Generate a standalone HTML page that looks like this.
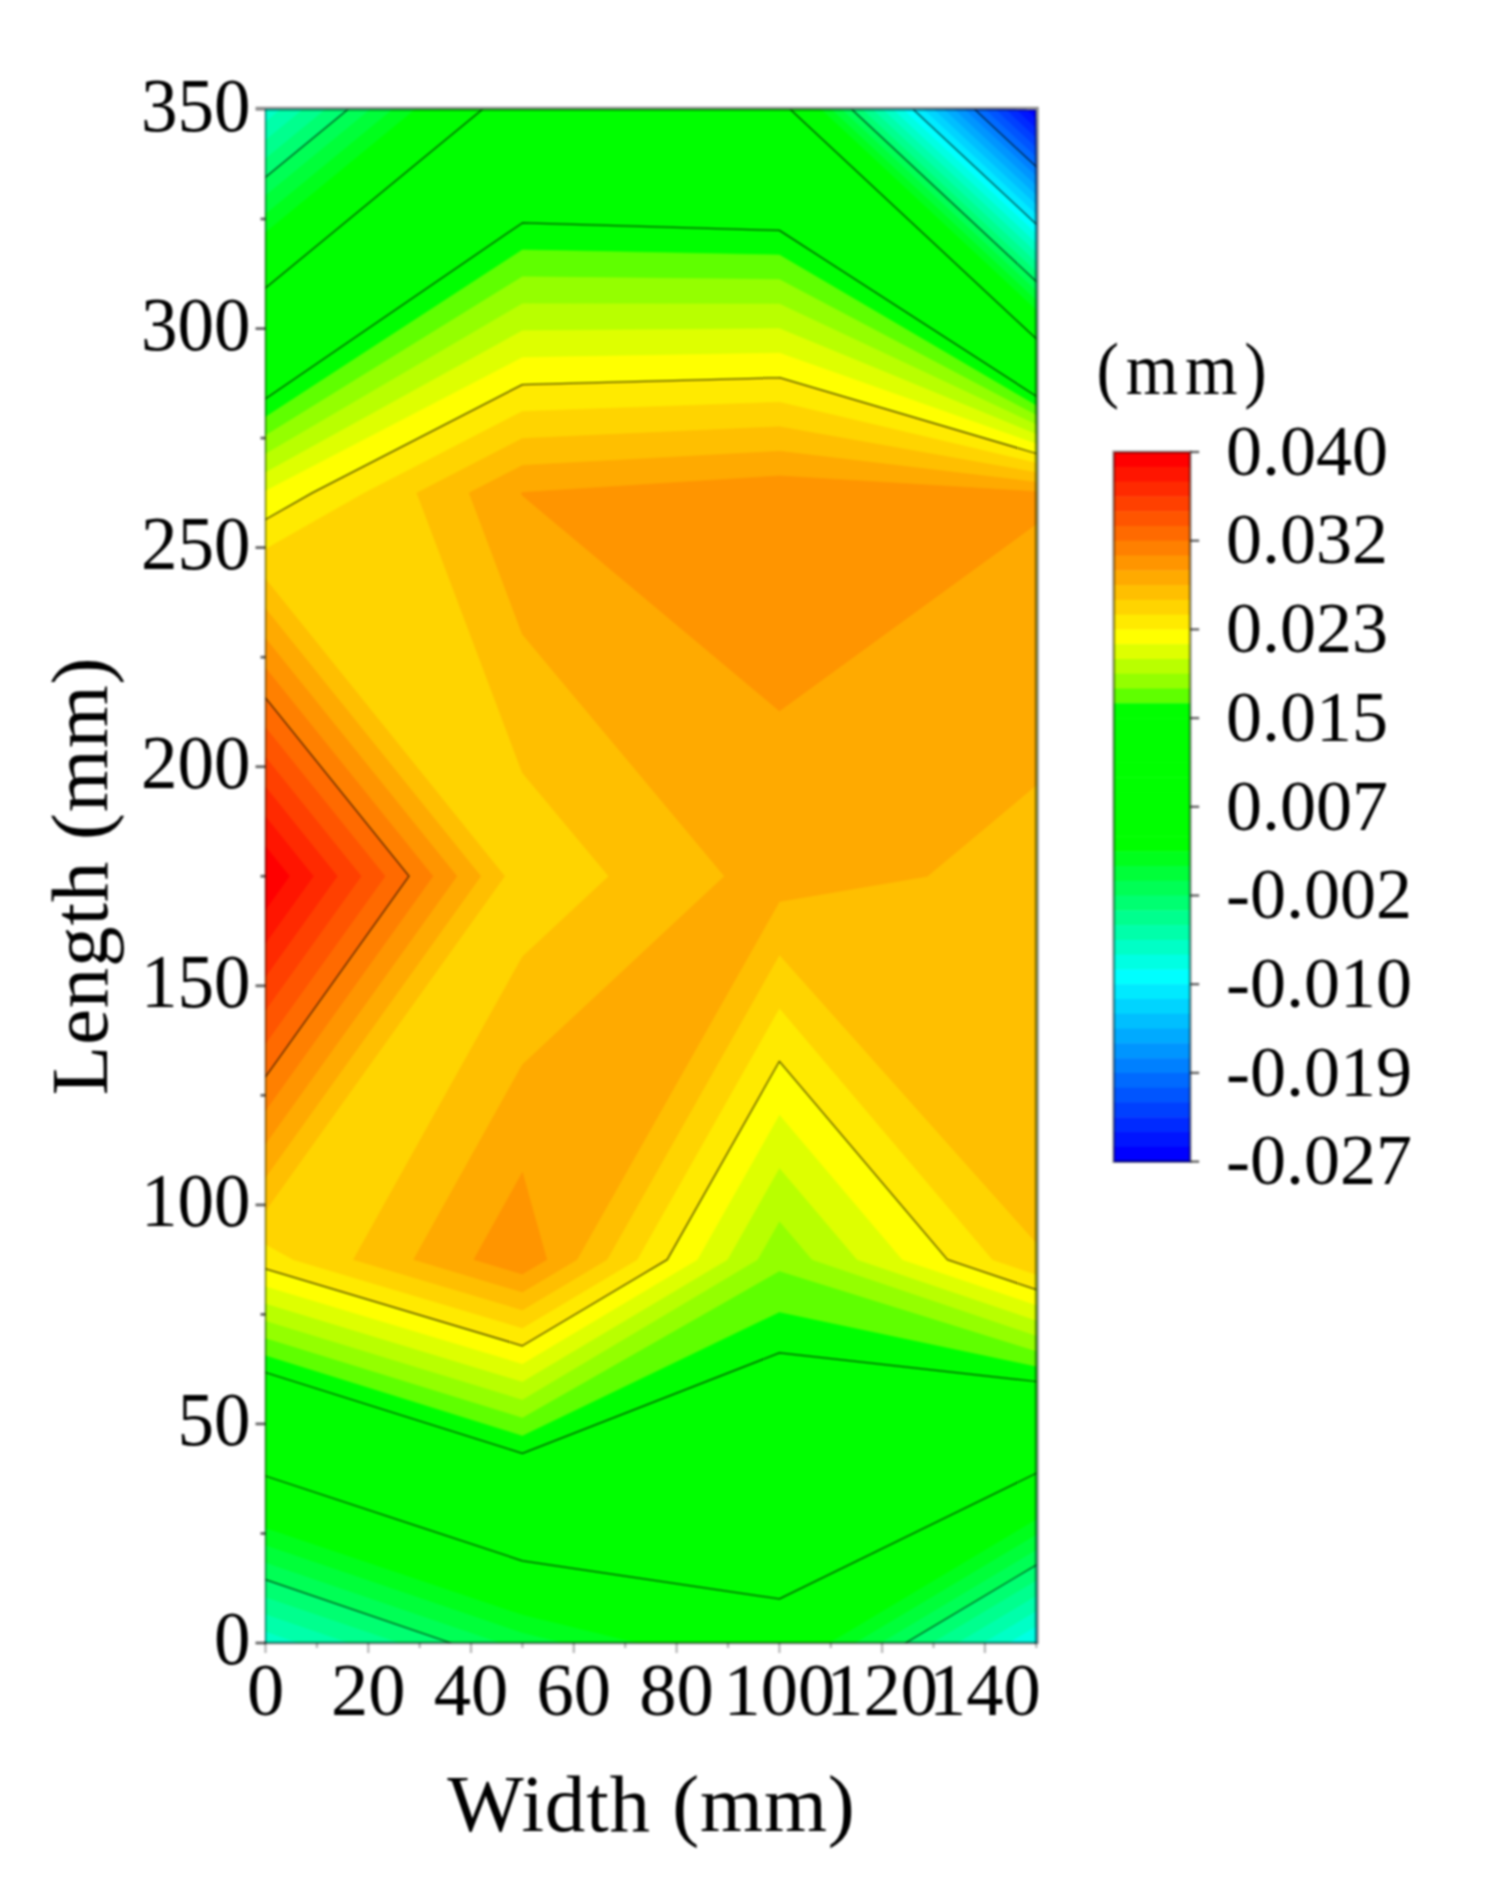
<!DOCTYPE html>
<html lang="en"><head><meta charset="utf-8"><title>Contour plot</title>
<style>html,body{margin:0;padding:0;background:#fff}svg{display:block}text{font-family:"Liberation Serif","Times New Roman",serif;fill:#000}</style></head><body>
<svg width="1493" height="1899" viewBox="0 0 1493 1899">
<defs><filter id="soft" x="0" y="0" width="100%" height="100%" filterUnits="userSpaceOnUse" color-interpolation-filters="sRGB"><feGaussianBlur stdDeviation="0.95"/></filter></defs>
<rect width="1493" height="1899" fill="#fff"/>
<g filter="url(#soft)">
<rect width="1493" height="1899" fill="#fff"/>
<clipPath id="plotclip"><rect x="265.5" y="109.5" width="770.8" height="1533.5"/></clipPath>
<g id="fills" stroke-linejoin="round" clip-path="url(#plotclip)">
<rect x="265.5" y="109.5" width="770.8" height="1533.5" fill="#0000ff"/>
<path d="M265.5,876.2L265.5,492.9L265.5,109.5L522.4,109.5L779.4,109.5L1026.1,109.5L1036.3,119.1L1036.3,492.9L1036.3,876.2L1036.3,1259.6L1036.3,1643.0L779.4,1643.0L522.4,1643.0L265.5,1643.0L265.5,1259.6Z" fill="#0015ff" stroke="#0015ff" stroke-width="0.6"/>
<path d="M265.5,876.2L265.5,492.9L265.5,109.5L522.4,109.5L779.4,109.5L1015.8,109.5L1036.3,128.6L1036.3,492.9L1036.3,876.2L1036.3,1259.6L1036.3,1643.0L779.4,1643.0L522.4,1643.0L265.5,1643.0L265.5,1259.6Z" fill="#002aff" stroke="#002aff" stroke-width="0.6"/>
<path d="M265.5,876.2L265.5,492.9L265.5,109.5L522.4,109.5L779.4,109.5L1005.6,109.5L1036.3,138.2L1036.3,492.9L1036.3,876.2L1036.3,1259.6L1036.3,1643.0L779.4,1643.0L522.4,1643.0L265.5,1643.0L265.5,1259.6Z" fill="#0040ff" stroke="#0040ff" stroke-width="0.6"/>
<path d="M265.5,876.2L265.5,492.9L265.5,109.5L522.4,109.5L779.4,109.5L995.3,109.5L1036.3,147.7L1036.3,492.9L1036.3,876.2L1036.3,1259.6L1036.3,1643.0L779.4,1643.0L522.4,1643.0L265.5,1643.0L265.5,1259.6Z" fill="#0055ff" stroke="#0055ff" stroke-width="0.6"/>
<path d="M265.5,876.2L265.5,492.9L265.5,109.5L522.4,109.5L779.4,109.5L985.1,109.5L1036.3,157.3L1036.3,492.9L1036.3,876.2L1036.3,1259.6L1036.3,1643.0L779.4,1643.0L522.4,1643.0L265.5,1643.0L265.5,1259.6Z" fill="#006aff" stroke="#006aff" stroke-width="0.6"/>
<path d="M265.5,876.2L265.5,492.9L265.5,109.5L522.4,109.5L779.4,109.5L974.8,109.5L1036.3,166.8L1036.3,492.9L1036.3,876.2L1036.3,1259.6L1036.3,1643.0L779.4,1643.0L522.4,1643.0L265.5,1643.0L265.5,1259.6Z" fill="#0080ff" stroke="#0080ff" stroke-width="0.6"/>
<path d="M265.5,876.2L265.5,492.9L265.5,109.5L522.4,109.5L779.4,109.5L964.6,109.5L1036.3,176.4L1036.3,492.9L1036.3,876.2L1036.3,1259.6L1036.3,1643.0L779.4,1643.0L522.4,1643.0L265.5,1643.0L265.5,1259.6Z" fill="#0095ff" stroke="#0095ff" stroke-width="0.6"/>
<path d="M265.5,876.2L265.5,492.9L265.5,109.5L522.4,109.5L779.4,109.5L954.3,109.5L1036.3,185.9L1036.3,492.9L1036.3,876.2L1036.3,1259.6L1036.3,1643.0L779.4,1643.0L522.4,1643.0L265.5,1643.0L265.5,1259.6Z" fill="#00aaff" stroke="#00aaff" stroke-width="0.6"/>
<path d="M265.5,876.2L265.5,492.9L265.5,109.5L522.4,109.5L779.4,109.5L944.1,109.5L1036.3,195.5L1036.3,492.9L1036.3,876.2L1036.3,1259.6L1036.3,1643.0L779.4,1643.0L522.4,1643.0L265.5,1643.0L265.5,1259.6Z" fill="#00bfff" stroke="#00bfff" stroke-width="0.6"/>
<path d="M265.5,876.2L265.5,492.9L265.5,109.5L522.4,109.5L779.4,109.5L933.8,109.5L1036.3,205.1L1036.3,492.9L1036.3,876.2L1036.3,1259.6L1036.3,1643.0L779.4,1643.0L522.4,1643.0L265.5,1643.0L265.5,1259.6Z" fill="#00d4ff" stroke="#00d4ff" stroke-width="0.6"/>
<path d="M265.5,876.2L265.5,492.9L265.5,109.5L522.4,109.5L779.4,109.5L923.6,109.5L1036.3,214.6L1036.3,492.9L1036.3,876.2L1036.3,1259.6L1036.3,1643.0L779.4,1643.0L522.4,1643.0L265.5,1643.0L265.5,1259.6Z" fill="#00eaff" stroke="#00eaff" stroke-width="0.6"/>
<path d="M265.5,876.2L265.5,492.9L265.5,109.5L522.4,109.5L779.4,109.5L913.3,109.5L1036.3,224.2L1036.3,492.9L1036.3,876.2L1036.3,1259.6L1036.3,1643.0L779.4,1643.0L522.4,1643.0L265.5,1643.0L265.5,1259.6Z" fill="#00ffff" stroke="#00ffff" stroke-width="0.6"/>
<path d="M265.5,876.2L265.5,492.9L265.5,109.5L522.4,109.5L779.4,109.5L903.1,109.5L1036.3,233.7L1036.3,492.9L1036.3,876.2L1036.3,1259.6L1036.3,1641.4L1033.6,1643.0L779.4,1643.0L522.4,1643.0L265.5,1643.0L265.5,1259.6Z" fill="#00ffe3" stroke="#00ffe3" stroke-width="0.6"/>
<path d="M265.5,876.2L265.5,492.9L265.5,109.5L522.4,109.5L779.4,109.5L892.8,109.5L1036.3,243.3L1036.3,492.9L1036.3,876.2L1036.3,1259.6L1036.3,1626.1L1008.0,1643.0L779.4,1643.0L522.4,1643.0L265.5,1643.0L265.5,1259.6Z" fill="#00ffc6" stroke="#00ffc6" stroke-width="0.6"/>
<path d="M265.5,1259.6L265.5,876.2L265.5,492.9L265.5,121.9L280.6,109.5L522.4,109.5L779.4,109.5L882.6,109.5L1036.3,252.8L1036.3,492.9L1036.3,876.2L1036.3,1259.6L1036.3,1610.8L982.4,1643.0L779.4,1643.0L522.4,1643.0L299.4,1643.0L265.5,1631.4Z" fill="#00ffaa" stroke="#00ffaa" stroke-width="0.6"/>
<path d="M265.5,1259.6L265.5,876.2L265.5,492.9L265.5,140.3L303.0,109.5L522.4,109.5L779.4,109.5L872.4,109.5L1036.3,262.4L1036.3,492.9L1036.3,876.2L1036.3,1259.6L1036.3,1595.5L956.8,1643.0L779.4,1643.0L522.4,1643.0L349.9,1643.0L265.5,1614.1Z" fill="#00ff8e" stroke="#00ff8e" stroke-width="0.6"/>
<path d="M265.5,1259.6L265.5,876.2L265.5,492.9L265.5,158.8L325.4,109.5L522.4,109.5L779.4,109.5L862.1,109.5L1036.3,271.9L1036.3,492.9L1036.3,876.2L1036.3,1259.6L1036.3,1580.2L931.2,1643.0L779.4,1643.0L522.4,1643.0L400.5,1643.0L265.5,1596.9Z" fill="#00ff71" stroke="#00ff71" stroke-width="0.6"/>
<path d="M265.5,1259.6L265.5,876.2L265.5,492.9L265.5,177.3L347.8,109.5L522.4,109.5L779.4,109.5L851.9,109.5L1036.3,281.5L1036.3,492.9L1036.3,876.2L1036.3,1259.6L1036.3,1565.0L905.5,1643.0L779.4,1643.0L522.4,1643.0L451.0,1643.0L265.5,1579.6Z" fill="#00ff55" stroke="#00ff55" stroke-width="0.6"/>
<path d="M265.5,1259.6L265.5,876.2L265.5,492.9L265.5,195.7L370.2,109.5L522.4,109.5L779.4,109.5L841.6,109.5L1036.3,291.1L1036.3,492.9L1036.3,876.2L1036.3,1259.6L1036.3,1549.7L879.9,1643.0L779.4,1643.0L522.4,1643.0L501.5,1643.0L265.5,1562.4Z" fill="#00ff39" stroke="#00ff39" stroke-width="0.6"/>
<path d="M565.3,1643.0L522.4,1632.5L265.5,1545.1L265.5,1259.6L265.5,876.2L265.5,492.9L265.5,214.2L392.6,109.5L522.4,109.5L779.4,109.5L831.4,109.5L1036.3,300.6L1036.3,492.9L1036.3,876.2L1036.3,1259.6L1036.3,1534.4L854.3,1643.0L779.4,1643.0Z" fill="#00ff1c" stroke="#00ff1c" stroke-width="0.6"/>
<path d="M638.4,1643.0L522.4,1614.6L265.5,1527.8L265.5,1259.6L265.5,876.2L265.5,492.9L265.5,232.6L415.0,109.5L522.4,109.5L779.4,109.5L821.1,109.5L1036.3,310.2L1036.3,492.9L1036.3,876.2L1036.3,1259.6L1036.3,1519.1L828.7,1643.0L779.4,1643.0Z" fill="#00ff00" stroke="#00ff00" stroke-width="0.6"/>
<path d="M711.6,1643.0L522.4,1596.7L265.5,1510.6L265.5,1259.6L265.5,876.2L265.5,492.9L265.5,251.1L437.5,109.5L522.4,109.5L779.4,109.5L810.9,109.5L1036.3,319.7L1036.3,492.9L1036.3,876.2L1036.3,1259.6L1036.3,1503.8L803.1,1643.0L779.4,1643.0Z" fill="#00ff00" stroke="#00ff00" stroke-width="0.6"/>
<path d="M522.4,1578.8L265.5,1493.3L265.5,1259.6L265.5,876.2L265.5,492.9L265.5,269.5L459.9,109.5L522.4,109.5L779.4,109.5L800.6,109.5L1036.3,329.3L1036.3,492.9L1036.3,876.2L1036.3,1259.6L1036.3,1488.5L779.4,1639.9Z" fill="#00ff00" stroke="#00ff00" stroke-width="0.6"/>
<path d="M522.4,1560.8L265.5,1476.0L265.5,1259.6L265.5,876.2L265.5,492.9L265.5,288.0L482.3,109.5L522.4,109.5L779.4,109.5L790.4,109.5L1036.3,338.8L1036.3,492.9L1036.3,876.2L1036.3,1259.6L1036.3,1473.2L779.4,1598.9Z" fill="#00ff00" stroke="#00ff00" stroke-width="0.6"/>
<path d="M522.4,1542.9L265.5,1458.8L265.5,1259.6L265.5,876.2L265.5,492.9L265.5,306.4L504.7,109.5L522.4,109.5L779.4,109.5L780.1,109.5L1036.3,348.4L1036.3,492.9L1036.3,876.2L1036.3,1259.6L1036.3,1457.9L779.4,1557.9Z" fill="#00ff00" stroke="#00ff00" stroke-width="0.6"/>
<path d="M265.5,876.2L265.5,492.9L265.5,324.9L522.4,115.1L779.4,132.2L1036.3,358.0L1036.3,492.9L1036.3,876.2L1036.3,1259.6L1036.3,1442.6L779.4,1516.9L522.4,1525.0L265.5,1441.5L265.5,1259.6Z" fill="#00ff00" stroke="#00ff00" stroke-width="0.6"/>
<path d="M265.5,876.2L265.5,492.9L265.5,343.3L522.4,142.1L779.4,156.8L1036.3,367.5L1036.3,492.9L1036.3,876.2L1036.3,1259.6L1036.3,1427.4L779.4,1475.9L522.4,1507.1L265.5,1424.3L265.5,1259.6Z" fill="#00ff00" stroke="#00ff00" stroke-width="0.6"/>
<path d="M265.5,876.2L265.5,492.9L265.5,361.8L522.4,169.0L779.4,181.3L1036.3,377.1L1036.3,492.9L1036.3,876.2L1036.3,1259.6L1036.3,1412.1L779.4,1434.9L522.4,1489.1L265.5,1407.0L265.5,1259.6Z" fill="#00ff00" stroke="#00ff00" stroke-width="0.6"/>
<path d="M265.5,876.2L265.5,492.9L265.5,380.2L522.4,196.0L779.4,205.9L1036.3,386.6L1036.3,492.9L1036.3,876.2L1036.3,1259.6L1036.3,1396.8L779.4,1393.9L522.4,1471.2L265.5,1389.7L265.5,1259.6Z" fill="#00ff00" stroke="#00ff00" stroke-width="0.6"/>
<path d="M265.5,876.2L265.5,492.9L265.5,398.7L522.4,222.9L779.4,230.4L1036.3,396.2L1036.3,492.9L1036.3,876.2L1036.3,1259.6L1036.3,1381.5L779.4,1352.9L522.4,1453.3L265.5,1372.5L265.5,1259.6Z" fill="#00ff00" stroke="#00ff00" stroke-width="0.6"/>
<path d="M265.5,876.2L265.5,492.9L265.5,417.1L522.4,249.9L779.4,255.0L1036.3,405.7L1036.3,492.9L1036.3,876.2L1036.3,1259.6L1036.3,1366.2L779.4,1311.9L522.4,1435.4L265.5,1355.2L265.5,1259.6Z" fill="#5fff00" stroke="#5fff00" stroke-width="0.6"/>
<path d="M265.5,876.2L265.5,492.9L265.5,435.6L522.4,276.8L779.4,279.5L1036.3,415.3L1036.3,492.9L1036.3,876.2L1036.3,1259.6L1036.3,1350.9L779.4,1270.9L522.4,1417.5L265.5,1337.9L265.5,1259.6Z" fill="#94ff00" stroke="#94ff00" stroke-width="0.6"/>
<path d="M265.5,876.2L265.5,492.9L265.5,454.0L522.4,303.7L779.4,304.0L1036.3,424.8L1036.3,492.9L1036.3,876.2L1036.3,1259.6L1036.3,1335.6L812.1,1259.6L779.4,1221.0L757.5,1259.6L522.4,1399.5L265.5,1320.7L265.5,1259.6Z" fill="#b9ff00" stroke="#b9ff00" stroke-width="0.6"/>
<path d="M265.5,876.2L265.5,492.9L265.5,472.5L522.4,330.7L779.4,328.6L1036.3,434.4L1036.3,492.9L1036.3,876.2L1036.3,1259.6L1036.3,1320.3L857.2,1259.6L779.4,1167.8L727.4,1259.6L522.4,1381.6L265.5,1303.4L265.5,1259.6Z" fill="#deff00" stroke="#deff00" stroke-width="0.6"/>
<path d="M265.5,876.2L265.5,492.9L265.5,490.9L522.4,357.6L779.4,353.1L1036.3,444.0L1036.3,492.9L1036.3,876.2L1036.3,1259.6L1036.3,1305.0L902.3,1259.6L779.4,1114.5L697.3,1259.6L522.4,1363.7L265.5,1286.2L265.5,1259.6Z" fill="#ffff00" stroke="#ffff00" stroke-width="0.6"/>
<path d="M265.5,876.2L265.5,519.5L312.3,492.9L522.4,384.6L779.4,377.7L1036.3,453.5L1036.3,492.9L1036.3,876.2L1036.3,1259.6L1036.3,1289.7L947.4,1259.6L779.4,1061.3L667.2,1259.6L522.4,1345.8L265.5,1268.9L265.5,1259.6Z" fill="#ffea00" stroke="#ffea00" stroke-width="0.6"/>
<path d="M265.5,876.2L265.5,549.2L364.6,492.9L522.4,411.5L779.4,402.2L1036.3,463.1L1036.3,492.9L1036.3,876.2L1036.3,1259.6L1036.3,1274.5L992.5,1259.6L779.4,1008.0L637.1,1259.6L522.4,1327.9L293.3,1259.6L265.5,1244.2Z" fill="#ffd400" stroke="#ffd400" stroke-width="0.6"/>
<path d="M522.4,1309.9L353.5,1259.6L522.4,956.8L608.8,876.2L522.4,772.8L416.9,492.9L522.4,438.5L779.4,426.8L1036.3,472.6L1036.3,492.9L1036.3,876.2L1036.3,1242.8L779.4,954.8L607.0,1259.6ZM265.5,579.0L504.6,876.2L265.5,1210.7L265.5,876.2Z" fill="#ffbf00" stroke="#ffbf00" stroke-width="0.6"/>
<path d="M522.4,1292.0L413.7,1259.6L522.4,1064.7L724.5,876.2L522.4,634.2L469.2,492.9L522.4,465.4L779.4,451.3L1036.3,482.2L1036.3,492.9L1036.3,785.1L927.4,876.2L779.4,901.5L576.9,1259.6ZM265.5,608.7L480.7,876.2L265.5,1177.3L265.5,876.2Z" fill="#ffaa00" stroke="#ffaa00" stroke-width="0.6"/>
<path d="M522.4,1172.5L546.7,1259.6L522.4,1274.1L473.9,1259.6ZM265.5,876.2L265.5,638.4L456.8,876.2L265.5,1143.8ZM521.4,492.9L522.4,492.4L779.4,475.9L1036.3,491.7L1036.3,492.9L1036.3,524.0L779.4,710.9L522.4,495.5Z" fill="#ff9500" stroke="#ff9500" stroke-width="0.6"/>
<path d="M265.5,1110.4L265.5,876.2L265.5,668.1L432.9,876.2Z" fill="#ff8000" stroke="#ff8000" stroke-width="0.6"/>
<path d="M265.5,1076.9L265.5,876.2L265.5,697.9L409.0,876.2Z" fill="#ff6a00" stroke="#ff6a00" stroke-width="0.6"/>
<path d="M265.5,1043.5L265.5,876.2L265.5,727.6L385.0,876.2Z" fill="#ff5500" stroke="#ff5500" stroke-width="0.6"/>
<path d="M265.5,1010.0L265.5,876.2L265.5,757.3L361.1,876.2Z" fill="#ff4000" stroke="#ff4000" stroke-width="0.6"/>
<path d="M265.5,976.6L265.5,876.2L265.5,787.1L337.2,876.2Z" fill="#ff2a00" stroke="#ff2a00" stroke-width="0.6"/>
<path d="M265.5,943.1L265.5,876.2L265.5,816.8L313.3,876.2Z" fill="#ff1500" stroke="#ff1500" stroke-width="0.6"/>
<path d="M265.5,909.7L265.5,876.2L265.5,846.5L289.4,876.2Z" fill="#ff0000" stroke="#ff0000" stroke-width="0.6"/>
</g>
<g id="lines" clip-path="url(#plotclip)" fill="none" stroke="#000" stroke-opacity="0.7" stroke-width="1.25" stroke-linecap="round">
<path d="M1036.3,166.8 L974.8,109.5"/>
<path d="M1036.3,224.2 L913.3,109.5"/>
<path d="M265.5,1579.6 L451.0,1643.0M905.5,1643.0 L1036.3,1565.0M347.8,109.5 L265.5,177.3M1036.3,281.5 L851.9,109.5"/>
<path d="M265.5,1476.0 L522.4,1560.8M522.4,1560.8 L779.4,1598.9M779.4,1598.9 L1036.3,1473.2M482.3,109.5 L265.5,288.0M1036.3,338.8 L790.4,109.5"/>
<path d="M265.5,1372.5 L522.4,1453.3M522.4,1453.3 L779.4,1352.9M779.4,1352.9 L1036.3,1381.5M522.4,222.9 L265.5,398.7M779.4,230.4 L522.4,222.9M1036.3,396.2 L779.4,230.4"/>
<path d="M265.5,1268.9 L522.4,1345.8M522.4,1345.8 L667.2,1259.6M947.4,1259.6 L1036.3,1289.7M667.2,1259.6 L779.4,1061.3M779.4,1061.3 L947.4,1259.6M312.3,492.9 L265.5,519.5M522.4,384.6 L312.3,492.9M779.4,377.7 L522.4,384.6M1036.3,453.5 L779.4,377.7"/>
<path d="M265.5,1076.9 L409.0,876.2M409.0,876.2 L265.5,697.9"/>
</g>
<path d="M265.5,109.5 V1643.0" fill="none" stroke="#000" stroke-opacity="0.45" stroke-width="1.7"/>
<path d="M264.5,1643.0 H1036.3" fill="none" stroke="#000" stroke-opacity="0.5" stroke-width="2.3"/>
<path d="M255.5,108.8 H1036.8 V1644.0" fill="none" stroke="#000" stroke-opacity="0.43" stroke-width="4" stroke-linejoin="miter"/>
<g id="ticks" stroke="#000" stroke-opacity="0.6" stroke-width="2.8">
<line x1="255.5" y1="1643.0" x2="265.5" y2="1643.0"/>
<line x1="260.5" y1="1533.5" x2="265.5" y2="1533.5"/>
<line x1="255.5" y1="1423.9" x2="265.5" y2="1423.9"/>
<line x1="260.5" y1="1314.4" x2="265.5" y2="1314.4"/>
<line x1="255.5" y1="1204.9" x2="265.5" y2="1204.9"/>
<line x1="260.5" y1="1095.3" x2="265.5" y2="1095.3"/>
<line x1="255.5" y1="985.8" x2="265.5" y2="985.8"/>
<line x1="260.5" y1="876.2" x2="265.5" y2="876.2"/>
<line x1="255.5" y1="766.7" x2="265.5" y2="766.7"/>
<line x1="260.5" y1="657.2" x2="265.5" y2="657.2"/>
<line x1="255.5" y1="547.6" x2="265.5" y2="547.6"/>
<line x1="260.5" y1="438.1" x2="265.5" y2="438.1"/>
<line x1="255.5" y1="328.6" x2="265.5" y2="328.6"/>
<line x1="260.5" y1="219.0" x2="265.5" y2="219.0"/>
</g><g id="xticks" stroke="#000" stroke-opacity="0.27" stroke-width="2.4">
<line x1="265.5" y1="1643.0" x2="265.5" y2="1653.0"/>
<line x1="316.9" y1="1643.0" x2="316.9" y2="1648.0"/>
<line x1="368.3" y1="1643.0" x2="368.3" y2="1653.0"/>
<line x1="419.7" y1="1643.0" x2="419.7" y2="1648.0"/>
<line x1="471.0" y1="1643.0" x2="471.0" y2="1653.0"/>
<line x1="522.4" y1="1643.0" x2="522.4" y2="1648.0"/>
<line x1="573.8" y1="1643.0" x2="573.8" y2="1653.0"/>
<line x1="625.2" y1="1643.0" x2="625.2" y2="1648.0"/>
<line x1="676.6" y1="1643.0" x2="676.6" y2="1653.0"/>
<line x1="728.0" y1="1643.0" x2="728.0" y2="1648.0"/>
<line x1="779.4" y1="1643.0" x2="779.4" y2="1653.0"/>
<line x1="830.8" y1="1643.0" x2="830.8" y2="1648.0"/>
<line x1="882.1" y1="1643.0" x2="882.1" y2="1653.0"/>
<line x1="933.5" y1="1643.0" x2="933.5" y2="1648.0"/>
<line x1="984.9" y1="1643.0" x2="984.9" y2="1653.0"/>
<line x1="1036.3" y1="1643.0" x2="1036.3" y2="1648.0"/>
</g>
<g id="ylabels" font-size="73" text-anchor="end">
<text transform="translate(250.5,1664.4) scale(1,1.04)">0</text>
<text transform="translate(250.5,1445.3) scale(1,1.04)">50</text>
<text transform="translate(250.5,1226.3) scale(1,1.04)">100</text>
<text transform="translate(250.5,1007.2) scale(1,1.04)">150</text>
<text transform="translate(250.5,788.1) scale(1,1.04)">200</text>
<text transform="translate(250.5,569.0) scale(1,1.04)">250</text>
<text transform="translate(250.5,350.0) scale(1,1.04)">300</text>
<text transform="translate(250.5,130.9) scale(1,1.04)">350</text>
</g>
<g id="xlabels" font-size="74.5" text-anchor="middle">
<text x="265.5" y="1715">0</text>
<text x="368.3" y="1715">20</text>
<text x="471.0" y="1715">40</text>
<text x="573.8" y="1715">60</text>
<text x="676.6" y="1715">80</text>
<text x="779.4" y="1715">100</text>
<text x="882.1" y="1715">120</text>
<text x="984.9" y="1715">140</text>
</g>
<text x="651.5" y="1831" font-size="81" letter-spacing="0.9" text-anchor="middle">Width (mm)</text>
<text transform="translate(107,876) rotate(-90)" font-size="81" letter-spacing="0.8" text-anchor="middle">Length (mm)</text>
<g id="cbar">
<rect x="1113.8" y="452.00" width="76.40000000000009" height="15.28" fill="#ff0000"/>
<rect x="1113.8" y="466.78" width="76.40000000000009" height="15.28" fill="#ff1500"/>
<rect x="1113.8" y="481.57" width="76.40000000000009" height="15.28" fill="#ff2a00"/>
<rect x="1113.8" y="496.35" width="76.40000000000009" height="15.28" fill="#ff4000"/>
<rect x="1113.8" y="511.13" width="76.40000000000009" height="15.28" fill="#ff5500"/>
<rect x="1113.8" y="525.92" width="76.40000000000009" height="15.28" fill="#ff6a00"/>
<rect x="1113.8" y="540.70" width="76.40000000000009" height="15.28" fill="#ff8000"/>
<rect x="1113.8" y="555.48" width="76.40000000000009" height="15.28" fill="#ff9500"/>
<rect x="1113.8" y="570.27" width="76.40000000000009" height="15.28" fill="#ffaa00"/>
<rect x="1113.8" y="585.05" width="76.40000000000009" height="15.28" fill="#ffbf00"/>
<rect x="1113.8" y="599.83" width="76.40000000000009" height="15.28" fill="#ffd400"/>
<rect x="1113.8" y="614.62" width="76.40000000000009" height="15.28" fill="#ffea00"/>
<rect x="1113.8" y="629.40" width="76.40000000000009" height="15.28" fill="#ffff00"/>
<rect x="1113.8" y="644.18" width="76.40000000000009" height="15.28" fill="#deff00"/>
<rect x="1113.8" y="658.97" width="76.40000000000009" height="15.28" fill="#b9ff00"/>
<rect x="1113.8" y="673.75" width="76.40000000000009" height="15.28" fill="#94ff00"/>
<rect x="1113.8" y="688.53" width="76.40000000000009" height="15.28" fill="#5fff00"/>
<rect x="1113.8" y="703.32" width="76.40000000000009" height="15.28" fill="#00ff00"/>
<rect x="1113.8" y="718.10" width="76.40000000000009" height="15.28" fill="#00ff00"/>
<rect x="1113.8" y="732.88" width="76.40000000000009" height="15.28" fill="#00ff00"/>
<rect x="1113.8" y="747.67" width="76.40000000000009" height="15.28" fill="#00ff00"/>
<rect x="1113.8" y="762.45" width="76.40000000000009" height="15.28" fill="#00ff00"/>
<rect x="1113.8" y="777.23" width="76.40000000000009" height="15.28" fill="#00ff00"/>
<rect x="1113.8" y="792.02" width="76.40000000000009" height="15.28" fill="#00ff00"/>
<rect x="1113.8" y="806.80" width="76.40000000000009" height="15.28" fill="#00ff00"/>
<rect x="1113.8" y="821.58" width="76.40000000000009" height="15.28" fill="#00ff00"/>
<rect x="1113.8" y="836.37" width="76.40000000000009" height="15.28" fill="#00ff00"/>
<rect x="1113.8" y="851.15" width="76.40000000000009" height="15.28" fill="#00ff1c"/>
<rect x="1113.8" y="865.93" width="76.40000000000009" height="15.28" fill="#00ff39"/>
<rect x="1113.8" y="880.72" width="76.40000000000009" height="15.28" fill="#00ff55"/>
<rect x="1113.8" y="895.50" width="76.40000000000009" height="15.28" fill="#00ff71"/>
<rect x="1113.8" y="910.28" width="76.40000000000009" height="15.28" fill="#00ff8e"/>
<rect x="1113.8" y="925.07" width="76.40000000000009" height="15.28" fill="#00ffaa"/>
<rect x="1113.8" y="939.85" width="76.40000000000009" height="15.28" fill="#00ffc6"/>
<rect x="1113.8" y="954.63" width="76.40000000000009" height="15.28" fill="#00ffe3"/>
<rect x="1113.8" y="969.42" width="76.40000000000009" height="15.28" fill="#00ffff"/>
<rect x="1113.8" y="984.20" width="76.40000000000009" height="15.28" fill="#00eaff"/>
<rect x="1113.8" y="998.98" width="76.40000000000009" height="15.28" fill="#00d4ff"/>
<rect x="1113.8" y="1013.77" width="76.40000000000009" height="15.28" fill="#00bfff"/>
<rect x="1113.8" y="1028.55" width="76.40000000000009" height="15.28" fill="#00aaff"/>
<rect x="1113.8" y="1043.33" width="76.40000000000009" height="15.28" fill="#0095ff"/>
<rect x="1113.8" y="1058.12" width="76.40000000000009" height="15.28" fill="#0080ff"/>
<rect x="1113.8" y="1072.90" width="76.40000000000009" height="15.28" fill="#006aff"/>
<rect x="1113.8" y="1087.68" width="76.40000000000009" height="15.28" fill="#0055ff"/>
<rect x="1113.8" y="1102.47" width="76.40000000000009" height="15.28" fill="#0040ff"/>
<rect x="1113.8" y="1117.25" width="76.40000000000009" height="15.28" fill="#002aff"/>
<rect x="1113.8" y="1132.03" width="76.40000000000009" height="15.28" fill="#0015ff"/>
<rect x="1113.8" y="1146.82" width="76.40000000000009" height="15.28" fill="#0000ff"/>
<rect x="1113.8" y="452.0" width="76.40000000000009" height="709.5999999999999" fill="none" stroke="#000" stroke-opacity="0.42" stroke-width="2.8"/>
</g>
<g id="cticks" stroke="#000" stroke-opacity="0.6" stroke-width="2.4">
<line x1="1190.2" y1="452.0" x2="1199.2" y2="452.0"/>
<line x1="1190.2" y1="540.7" x2="1199.2" y2="540.7"/>
<line x1="1190.2" y1="629.4" x2="1199.2" y2="629.4"/>
<line x1="1190.2" y1="718.1" x2="1199.2" y2="718.1"/>
<line x1="1190.2" y1="806.8" x2="1199.2" y2="806.8"/>
<line x1="1190.2" y1="895.5" x2="1199.2" y2="895.5"/>
<line x1="1190.2" y1="984.2" x2="1199.2" y2="984.2"/>
<line x1="1190.2" y1="1072.9" x2="1199.2" y2="1072.9"/>
<line x1="1190.2" y1="1161.6" x2="1199.2" y2="1161.6"/>
</g>
<g id="clabels" font-size="72">
<text x="1226" y="474.7">0.040</text>
<text x="1226" y="563.4">0.032</text>
<text x="1226" y="652.1">0.023</text>
<text x="1226" y="740.8">0.015</text>
<text x="1226" y="829.5">0.007</text>
<text x="1226" y="918.2">-0.002</text>
<text x="1226" y="1006.9">-0.010</text>
<text x="1226" y="1095.6">-0.019</text>
<text x="1226" y="1184.3">-0.027</text>
</g>
<text transform="translate(1096.5,394) scale(0.9,1)" font-size="75" letter-spacing="7.5">(mm)</text>
</g>
</svg></body></html>
